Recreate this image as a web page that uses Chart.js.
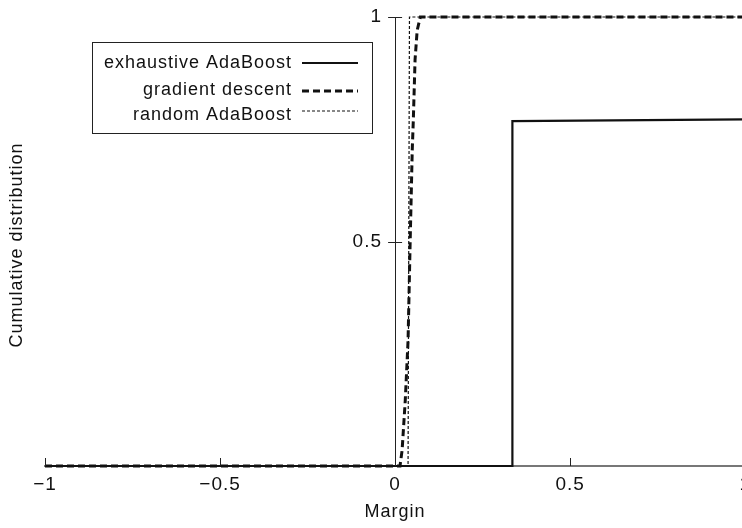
<!DOCTYPE html>
<html>
<head>
<meta charset="utf-8">
<script src="https://cdn.jsdelivr.net/npm/chart.js@4.4.1/dist/chart.umd.min.js"></script>
<style>
html, body { margin: 0; padding: 0; background: #fff; overflow: hidden; }
#wrap { position: relative; width: 760px; height: 528px; }
</style>
</head>
<body>
<div id="wrap"><canvas id="chart"></canvas></div>
<script>
const seriesNames = ['exhaustive AdaBoost', 'gradient descent', 'random AdaBoost'];

// cumulative distribution of margins
const exhaustiveX = [-1, 0.335, 0.335, 1];
const exhaustiveY = [0, 0, 0.768, 0.772];

const gradientX = [-1, 0.014, 0.020, 0.029, 0.037, 0.043, 0.049, 0.052, 0.057, 0.063, 0.072, 1];
const gradientY = [0, 0, 0.035, 0.146, 0.28, 0.5, 0.705, 0.77, 0.905, 0.97, 1, 1];

const randomX = [-1, 0.037, 0.039, 0.041, 1];
const randomY = [0, 0, 0.5, 1, 1];

const xTicks = [-1, -0.5, 0, 0.5, 1];
const yTicks = [0.5, 1];

const xTitle = 'Margin';
const yTitle = 'Cumulative distribution';

const fontFamily = '"Liberation Sans", Arial, Helvetica, sans-serif';
const textColor = '#111';

function toPoints(xs, ys) {
    return xs.map((x, i) => ({x: x, y: ys[i]}));
}

function fmt(v) {
    return v < 0 ? '\u2212' + Math.abs(v) : String(v);
}

// wider text like the original figure
const spacing = {
    id: 'spacing',
    beforeLayout(chart) { chart.ctx.letterSpacing = '1px'; },
    beforeDraw(chart) { chart.ctx.letterSpacing = '1px'; }
};

// tick marks, y title and the boxed legend
const extras = {
    id: 'extras',
    afterDatasetsDraw(chart) {
        const ctx = chart.ctx;
        const xs = chart.scales.x;
        const ys = chart.scales.y;
        const x0 = xs.getPixelForValue(0);
        const yb = ys.getPixelForValue(0);

        ctx.save();
        ctx.strokeStyle = '#222';
        ctx.lineWidth = 1;
        ctx.beginPath();
        yTicks.forEach(v => {
            const py = Math.round(ys.getPixelForValue(v)) + 0.5;
            ctx.moveTo(x0 - 7, py);
            ctx.lineTo(x0 + 7, py);
        });
        xTicks.forEach(v => {
            const px = Math.round(xs.getPixelForValue(v)) + 0.5;
            ctx.moveTo(px, yb);
            ctx.lineTo(px, yb - 8);
        });
        ctx.stroke();

        ctx.fillStyle = textColor;
        ctx.font = '18px ' + fontFamily;
        ctx.letterSpacing = '1px';
        ctx.translate(17, 245);
        ctx.rotate(-Math.PI / 2);
        ctx.textAlign = 'center';
        ctx.textBaseline = 'middle';
        ctx.fillText(yTitle, 0, 0);
        ctx.restore();

        // legend
        ctx.save();
        ctx.strokeStyle = '#222';
        ctx.lineWidth = 1;
        ctx.strokeRect(92.5, 42.5, 280, 91);
        ctx.font = '18px ' + fontFamily;
        ctx.letterSpacing = '1px';
        ctx.fillStyle = textColor;
        ctx.textAlign = 'right';
        ctx.textBaseline = 'middle';
        const rows = [63, 90, 115];
        const lineRows = [63, 91, 111];
        chart.data.datasets.forEach((ds, i) => {
            ctx.fillText(ds.label, 292, rows[i]);
            ctx.beginPath();
            ctx.strokeStyle = ds.borderColor;
            ctx.lineWidth = ds.borderWidth;
            ctx.setLineDash(ds.borderDash || []);
            ctx.moveTo(302, lineRows[i]);
            ctx.lineTo(358, lineRows[i]);
            ctx.stroke();
        });
        ctx.restore();
    }
};

new Chart(document.getElementById('chart'), {
    type: 'scatter',
    data: {
        datasets: [
            {
                label: seriesNames[0],
                data: toPoints(exhaustiveX, exhaustiveY),
                borderColor: '#111',
                borderWidth: 2.2,
                showLine: true,
                pointRadius: 0,
                tension: 0,
                clip: false
            },
            {
                label: seriesNames[1],
                data: toPoints(gradientX, gradientY),
                borderColor: '#111',
                borderWidth: 3,
                borderDash: [7, 4],
                showLine: true,
                pointRadius: 0,
                tension: 0,
                clip: false
            },
            {
                label: seriesNames[2],
                data: toPoints(randomX, randomY),
                borderColor: '#111',
                borderWidth: 1.2,
                borderDash: [3, 2],
                showLine: true,
                pointRadius: 0,
                tension: 0,
                clip: false
            }
        ]
    },
    options: {
        responsive: true,
        maintainAspectRatio: false,
        animation: false,
        devicePixelRatio: 1,
        layout: {
            padding: {left: 45, top: 17, right: 0, bottom: 3}
        },
        plugins: {
            legend: {display: false},
            tooltip: {enabled: false}
        },
        scales: {
            x: {
                type: 'linear',
                min: -1,
                max: 1,
                afterBuildTicks: scale => { scale.ticks = xTicks.map(v => ({value: v})); },
                grid: {drawOnChartArea: false, drawTicks: false},
                border: {display: true, color: '#777', width: 2},
                ticks: {
                    padding: 9,
                    color: textColor,
                    font: {family: fontFamily, size: 19, lineHeight: 1},
                    maxRotation: 0,
                    callback: v => fmt(v)
                },
                title: {
                    display: true,
                    text: xTitle,
                    color: textColor,
                    font: {family: fontFamily, size: 18, lineHeight: 1},
                    padding: {top: 0, bottom: 4}
                }
            },
            y: {
                type: 'linear',
                position: {x: 0},
                min: 0,
                max: 1,
                afterBuildTicks: scale => { scale.ticks = yTicks.map(v => ({value: v})); },
                grid: {drawOnChartArea: false, drawTicks: false},
                border: {display: true, color: '#222', width: 1},
                ticks: {
                    padding: 0,
                    color: textColor,
                    font: {family: fontFamily, size: 19},
                    // gap between label and axis line
                    callback: v => fmt(v) + '\u2002\u200A'
                }
            }
        }
    },
    plugins: [spacing, extras]
});
</script>
</body>
</html>
